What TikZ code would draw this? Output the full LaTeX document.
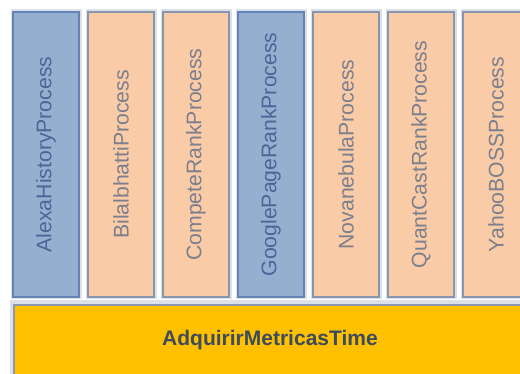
\documentclass[tikz,border=0pt]{standalone}
\usepackage{fontspec}
\setmainfont{Liberation Sans}
\definecolor{bluefill}{HTML}{95AFD1}
\definecolor{blueline}{HTML}{6482B3}
\definecolor{orfill}{HTML}{F9CBA7}
\definecolor{orline}{HTML}{8795AE}
\definecolor{bluetext}{HTML}{4B6696}
\definecolor{ortext}{HTML}{7B7F8E}
\definecolor{yel}{HTML}{FFC000}
\definecolor{yline}{HTML}{8A98AE}
\definecolor{glow}{HTML}{DCE1E9}
\definecolor{btext}{HTML}{3C4B5E}
\tikzset{
  procbox/.style={rectangle, minimum width=66pt, minimum height=285pt, inner sep=0pt, line width=1.6pt},
  bluebox/.style={procbox, fill=bluefill, draw=blueline},
  orbox/.style={procbox, fill=orfill, draw=orline},
  proclabel/.style={rotate=90, font=\fontsize{21.2}{22}\selectfont},
  basebar/.style={rectangle, fill=yel, draw=yline, line width=1.6pt, minimum width=520pt, minimum height=78pt, inner sep=0pt, anchor=north west}
}
\begin{document}
\begin{tikzpicture}[x=1pt,y=1pt]
\useasboundingbox (0,0) rectangle (520,-374);
\fill[white] (0,0) rectangle (520,-374);
% base bar
\fill[glow] (10,-300) rectangle (530,-380);
\node[basebar] (base) at (13,-304) {};
\node[font=\bfseries\fontsize{21}{22}\selectfont, text=btext] (basetext) at (270,-340) {AdquirirMetricasTime};
% process boxes
\foreach \i/\st in {0/bluebox,1/orbox,2/orbox,3/bluebox,4/orbox,5/orbox,6/orbox}{
  \fill[glow] ({13+75*\i-2.5},-9.5) rectangle ({13+75*\i+68.5},-299.5);
  \node[\st] (p\i) at ({46+75*\i},-154.5) {};
}
\node[proclabel, text=bluetext] (l0) at (p0.center) {AlexaHistoryProcess};
\node[proclabel, text=ortext] (l1) at (p1.center) {BilalbhattiProcess};
\node[proclabel, text=ortext] (l2) at (p2.center) {CompeteRankProcess};
\node[proclabel, text=bluetext] (l3) at (p3.center) {GooglePageRankProcess};
\node[proclabel, text=ortext] (l4) at (p4.center) {NovanebulaProcess};
\node[proclabel, text=ortext] (l5) at (p5.center) {QuantCastRankProcess};
\node[proclabel, text=ortext] (l6) at (p6.center) {YahooBOSSProcess};
\end{tikzpicture}
\end{document}
